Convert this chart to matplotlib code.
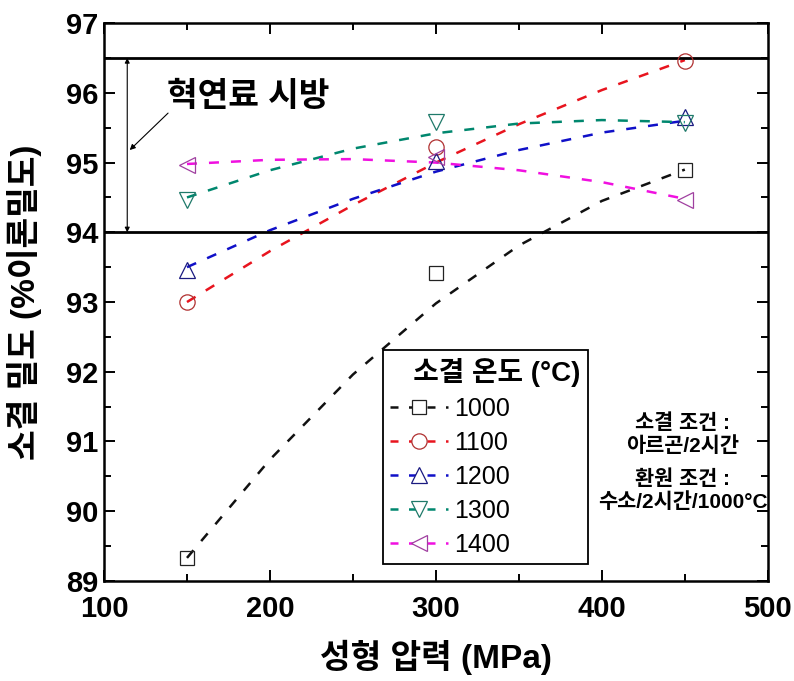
import matplotlib.pyplot as plt
from matplotlib.ticker import MultipleLocator

plt.rcParams['font.family'] = ['Liberation Sans', 'Noto Sans CJK KR']

# measured points (sintering temperature series)
pressure = [150, 300, 450]
dens_1000 = [89.33, 93.42, 94.89]
dens_1100 = [93.00, 95.22, 96.46]
dens_1200 = [93.46, 95.02, 95.65]
dens_1300 = [94.46, 95.58, 95.57]
dens_1400 = [94.96, 95.08, 94.46]

# trend curves
fit_pressure = [150, 200, 250, 300, 350, 400, 450]
fit_1000 = [89.33, 90.74, 91.96, 92.98, 93.81, 94.45, 94.90]
fit_1100 = [93.00, 93.73, 94.39, 95.00, 95.55, 96.04, 96.47]
fit_1200 = [93.50, 94.03, 94.48, 94.87, 95.18, 95.43, 95.60]
fit_1300 = [94.50, 94.89, 95.20, 95.42, 95.56, 95.61, 95.58]
fit_1400 = [94.98, 95.04, 95.05, 95.00, 94.89, 94.72, 94.48]

labels = ['1000', '1100', '1200', '1300', '1400']
spec_lo, spec_hi = 94.0, 96.5

series = [
    (dens_1000, fit_1000, 's', 9.5, '#111111', '#222222'),
    (dens_1100, fit_1100, 'o', 11, '#e8141e', '#b03030'),
    (dens_1200, fit_1200, '^', 12, '#1010c8', '#1a1a80'),
    (dens_1300, fit_1300, 'v', 12, '#00876e', '#1f7a6a'),
    (dens_1400, fit_1400, '<', 12, '#f010e0', '#a040a0'),
]

fig = plt.figure(figsize=(7.94, 6.81), dpi=100)
ax = fig.add_axes([0.131, 0.147, 0.836, 0.819])

handles = []
for (pts, fit, mk, ms, lc, ec), lab in zip(series, labels):
    ax.plot(fit_pressure, fit, color=lc, lw=1.8, dashes=(4, 4.8), zorder=2)
    ax.plot(pressure, pts, ls='none', marker=mk, ms=ms, mfc='none',
            mec=ec, mew=0.9, zorder=3)
    h, = ax.plot([], [], color=lc, lw=1.8, dashes=(3.2, 4.2), marker=mk,
                 ms=ms, mfc='white', mec=ec, mew=0.9)
    handles.append(h)

ax.axhline(spec_hi, color='black', lw=2)
ax.axhline(spec_lo, color='black', lw=2)

# spec range arrow and label
ax.annotate('', xy=(114, spec_hi), xytext=(114, spec_lo),
            arrowprops=dict(arrowstyle='<|-|>', lw=0.8, color='black',
                            mutation_scale=7, shrinkA=0, shrinkB=0))
ax.annotate('', xy=(115.5, 95.18), xytext=(138.6, 95.71),
            arrowprops=dict(arrowstyle='-|>', lw=0.8, color='black',
                            mutation_scale=8, shrinkA=0, shrinkB=0))
ax.text(138, 95.94, '혁연료 시방', fontsize=24, fontweight='bold',
        va='center', ha='left')

ax.text(448.8, 91.10, '소결 조건 :\n아르곤/2시간',
        fontsize=15, fontweight='bold', ha='center', va='center',
        linespacing=1.2)
ax.text(448.8, 90.30, '환원 조건 :\n수소/2시간/1000°C',
        fontsize=15, fontweight='bold', ha='center', va='center',
        linespacing=1.2)

ax.set_xlim(100, 500)
ax.set_ylim(89, 97)
ax.xaxis.set_major_locator(MultipleLocator(100))
ax.xaxis.set_minor_locator(MultipleLocator(50))
ax.yaxis.set_major_locator(MultipleLocator(1))
ax.yaxis.set_minor_locator(MultipleLocator(0.5))
ax.tick_params(which='both', direction='in', top=True, right=True,
               labelsize=21, width=1.4)
ax.tick_params(which='major', length=8)
ax.tick_params(which='minor', length=5)
ax.tick_params(axis='x', which='major', pad=10)
ax.tick_params(axis='y', which='major', pad=4)
for t in ax.get_xticklabels() + ax.get_yticklabels():
    t.set_fontweight('bold')
for sp in ax.spines.values():
    sp.set_linewidth(1.8)

ax.set_xlabel('성형 압력 (MPa)', fontsize=24, fontweight='bold', labelpad=12)
ax.set_ylabel('소결 밀도 (%이론밀도)', fontsize=24, fontweight='bold')
ax.yaxis.set_label_coords(-0.093, 0.5)

leg = ax.legend(handles, labels, title='   소결 온도 (°C)', loc='lower left',
                bbox_to_anchor=(0.42, 0.03), fontsize=18, numpoints=1,
                handlelength=2.3, handletextpad=0.25, labelspacing=0.4,
                borderpad=0.3, fancybox=False, framealpha=1,
                edgecolor='black', borderaxespad=0)
leg.get_title().set_fontsize(20)
leg.get_title().set_fontweight('bold')
leg.get_frame().set_linewidth(1.3)
leg._legend_box.align = 'left'

fig.savefig('out.png', dpi=100)
